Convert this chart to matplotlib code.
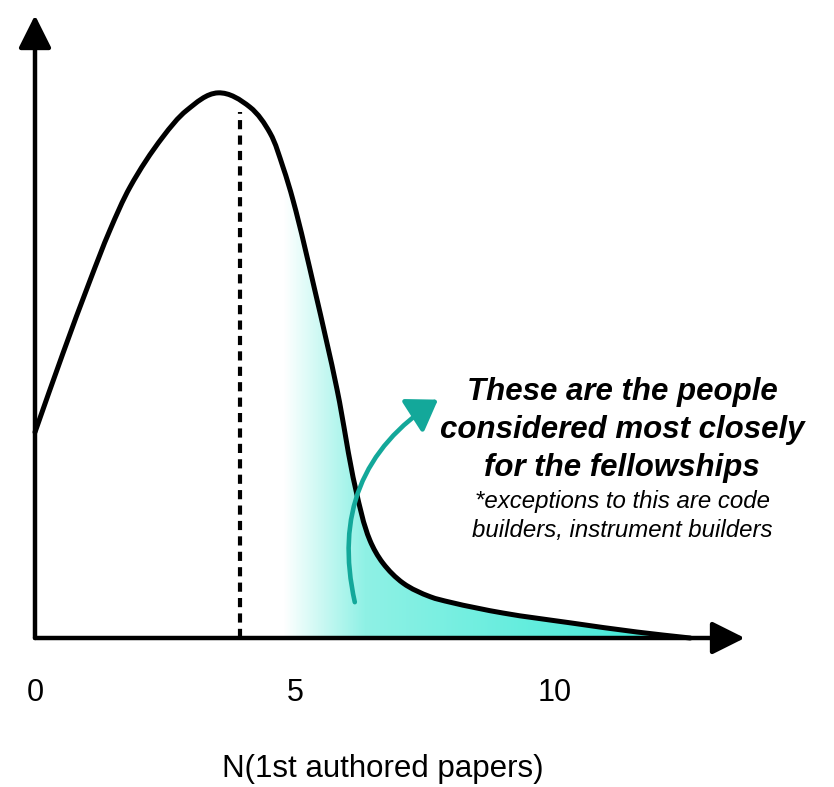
import numpy as np
import matplotlib
matplotlib.use("Agg")
import matplotlib.pyplot as plt
from matplotlib.colors import LinearSegmentedColormap
from matplotlib.patches import FancyArrowPatch, PathPatch
from matplotlib.path import Path

# curve (x = N papers, y = relative count)
curve_x = [0.00, 0.54, 1.06, 1.44, 1.83, 2.46, 2.92, 3.52, 4.13, 4.52, 4.77,
           4.96, 5.38, 5.81, 6.17, 6.44, 6.69, 7.08, 7.60, 7.98, 9.00, 10.29,
           11.58, 12.60]
curve_y = [3.79, 5.25, 6.59, 7.51, 8.31, 9.23, 9.72, 10.04, 9.78, 9.30, 8.67,
           8.07, 6.41, 4.57, 2.73, 1.80, 1.38, 1.01, 0.76, 0.66, 0.46, 0.28,
           0.11, 0.00]
median_x = 3.94
shade_start = 10   # index of curve point where the shading starts
tick_vals = [0, 5, 10]
tick_labels = ["0", "5", "10"]
xlabel = "N(1st authored papers)"
headline = "These are the people\nconsidered most closely\nfor the fellowships"
footnote = "*exceptions to this are code\nbuilders, instrument builders"

plt.rcParams['font.family'] = ['Liberation Sans', 'DejaVu Sans']


def smooth_path(xs, ys, start=0):
    # bezier segments through the points, handles follow the local direction
    pts = np.column_stack([xs, ys])
    n = len(pts)
    dirs = []
    for i in range(n):
        a = pts[max(i - 1, 0)]
        b = pts[min(i + 1, n - 1)]
        d = np.zeros(2)
        if i > 0:
            d += (pts[i] - a) / np.linalg.norm(pts[i] - a)
        if i < n - 1:
            d += (b - pts[i]) / np.linalg.norm(b - pts[i])
        dirs.append(d / np.linalg.norm(d))
    verts = [pts[start]]
    codes = [Path.MOVETO]
    for i in range(start, n - 1):
        L = np.linalg.norm(pts[i + 1] - pts[i]) / 3
        verts += [pts[i] + dirs[i] * L, pts[i + 1] - dirs[i + 1] * L, pts[i + 1]]
        codes += [Path.CURVE4] * 3
    return verts, codes


fig = plt.figure(figsize=(8.34, 7.87), dpi=100)
ax = fig.add_axes([0, 0, 1, 1])
ax.set_xlim(-0.673, 15.365)
ax.set_ylim(-2.744, 11.75)
ax.axis('off')

cx = np.array(curve_x)
cy = np.array(curve_y)

# gradient fill under the tail
teal = LinearSegmentedColormap.from_list(
    'tealfade', [(0.0, '#ffffff'), (0.2, '#8ff1e5'), (1.0, '#38e9d6')])
grad = np.linspace(0, 1, 256).reshape(1, -1)
x0 = cx[shade_start]
im = ax.imshow(grad, cmap=teal, aspect='auto',
               extent=(x0, cx[-1], 0, cy.max()), zorder=1)
fv, fc = smooth_path(cx, cy, shade_start)
fv += [(cx[-1], 0), (x0, 0), (x0, cy[shade_start])]
fc += [Path.LINETO, Path.LINETO, Path.CLOSEPOLY]
clip = PathPatch(Path(fv, fc), facecolor='none', edgecolor='none')
ax.add_patch(clip)
im.set_clip_path(clip)

v, c = smooth_path(cx, cy)
ax.add_patch(PathPatch(Path(v, c), facecolor='none', edgecolor='black',
                       lw=3.6, capstyle='round', zorder=3))
ax.plot([median_x, median_x], [0, 9.69], color='black', lw=3,
        dashes=(2.2, 1.5), zorder=3)

# axes with arrow heads
head = '-|>,head_length=0.5,head_width=0.25'
ax.annotate('', xy=(13.65, 0), xytext=(0, 0),
            arrowprops=dict(arrowstyle=head, lw=3.2, color='black',
                            mutation_scale=40, shrinkA=0, shrinkB=0), zorder=4)
ax.annotate('', xy=(0, 11.47), xytext=(0, 0),
            arrowprops=dict(arrowstyle=head, lw=3.2, color='black',
                            mutation_scale=40, shrinkA=0, shrinkB=0), zorder=4)

# teal curved arrow
arr = FancyArrowPatch((6.15, 0.66), (7.75, 4.39),
                      connectionstyle='arc3,rad=-0.35',
                      arrowstyle='-|>,head_length=0.45,head_width=0.3',
                      mutation_scale=40, lw=3.3, color='#13a89a',
                      shrinkA=0, shrinkB=0, zorder=5)
ax.add_patch(arr)

for val, lab in zip(tick_vals, tick_labels):
    ax.text(val, -1.02, lab, ha='center', va='center', fontsize=22)
ax.text(6.69, -2.42, xlabel, ha='center', va='center', fontsize=22.5)

ax.text(11.29, 3.83, headline, ha='center', va='center', fontsize=22.5,
        fontweight='bold', fontstyle='italic', linespacing=1.33)
ax.text(11.29, 2.25, footnote, ha='center', va='center', fontsize=17.3,
        fontstyle='italic', linespacing=1.36)

fig.savefig('out.png', dpi=100)
